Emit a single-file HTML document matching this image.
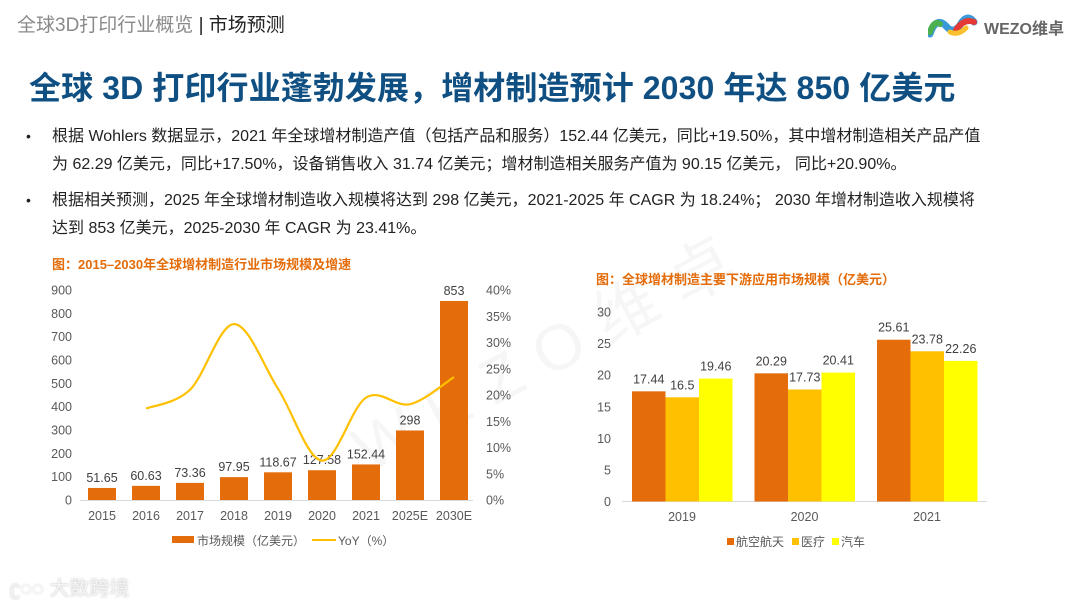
<!DOCTYPE html>
<html><head><meta charset="utf-8">
<style>
body{margin:0;width:1080px;height:608px;background:#fff;overflow:hidden;position:relative;font-family:"Liberation Sans","Noto Sans CJK SC",sans-serif}
.hdr{position:absolute;left:17px;top:10px;font-size:19px;color:#8a8a8a;white-space:nowrap}
.hdr b{font-weight:normal;color:#222}
.title{position:absolute;left:29px;top:63px;font-size:32px;font-weight:bold;color:#0f4f82;white-space:nowrap;letter-spacing:0.1px}
.bl{position:absolute;left:26px;font-size:16px;color:#222;white-space:nowrap}
.bl span{display:inline-block;width:26px;font-size:14px}
.ln{position:absolute;left:52px;font-size:16px;color:#222;white-space:nowrap}
svg{position:absolute;left:0;top:0}
</style></head><body>
<div class="hdr">全球3D打印行业概览 <b>| 市场预测</b></div>
<div style="position:absolute;left:928px;top:10px;width:150px;height:30px">
<svg width="60" height="30" style="position:absolute;left:0;top:0"><path d="M2 24 Q8 6 18 16 Q26 26 34 12 Q40 4 46 12" stroke="#3a9ad9" stroke-width="7" fill="none" stroke-linecap="round"/><path d="M2 22 Q6 10 12 14" stroke="#4caf50" stroke-width="6" fill="none" stroke-linecap="round"/><path d="M28 20 Q36 8 46 12" stroke="#e53935" stroke-width="6" fill="none" stroke-linecap="round"/><path d="M22 22 Q30 26 38 18" stroke="#fbc02d" stroke-width="5" fill="none" stroke-linecap="round"/></svg>
<div style="position:absolute;left:56px;top:5px;font-size:16px;font-weight:bold;color:#666;white-space:nowrap">WEZO维卓</div></div>
<div class="title">全球 3D 打印行业蓬勃发展，增材制造预计 2030 年达 850 亿美元</div>
<div class="bl" style="top:122px"><span>•</span>根据 Wohlers 数据显示，2021 年全球增材制造产值（包括产品和服务）152.44 亿美元，同比+19.50%，其中增材制造相关产品产值</div>
<div class="ln" style="top:150px">为 62.29 亿美元，同比+17.50%，设备销售收入 31.74 亿美元；增材制造相关服务产值为 90.15 亿美元， 同比+20.90%。</div>
<div class="bl" style="top:186px"><span>•</span>根据相关预测，2025 年全球增材制造收入规模将达到 298 亿美元，2021-2025 年 CAGR 为 18.24%； 2030 年增材制造收入规模将</div>
<div class="ln" style="top:214px">达到 853 亿美元，2025-2030 年 CAGR 为 23.41%。</div>
<div style="position:absolute;left:330px;top:300px;font-size:64px;color:rgba(0,0,0,0.035);transform:rotate(-28deg);letter-spacing:20px;white-space:nowrap">WEZO维卓</div>
<div style="position:absolute;left:10px;top:572px;font-size:20px;color:#f4f4f4;text-shadow:0 0 2px #bbb">ʗ◌◌ 大数跨境</div>
<svg id="c1" width="1080" height="608"></svg>
<script>
const years=["2015","2016","2017","2018","2019","2020","2021","2025E","2030E"];
const sizes=[51.65,60.63,73.36,97.95,118.67,127.58,152.44,298,853];
const sizeLabels=["51.65","60.63","73.36","97.95","118.67","127.58","152.44","298","853"];
const yoy=[null,17.4,21,33.5,21.2,7.5,19.5,18.24,23.41];
const leftTicks=[0,100,200,300,400,500,600,700,800,900];
const rightTicks=[0,5,10,15,20,25,30,35,40];
const cats2=["2019","2020","2021"];
const aero=[17.44,20.29,25.61];
const med=[16.5,17.73,23.78];
const auto=[19.46,20.41,22.26];
const ticks2=[0,5,10,15,20,25,30];
const NS="http://www.w3.org/2000/svg";
const svg=document.getElementById('c1');
function mk(t,a,txt){const e=document.createElementNS(NS,t);for(const k in a)e.setAttribute(k,a[k]);if(txt!==undefined)e.textContent=txt;svg.appendChild(e);return e;}
const F='"Liberation Sans","Noto Sans CJK SC",sans-serif';
const y1=v=>500-v*(210/900), y1r=v=>500-v*(210/40), x1=i=>102+i*44;
let t=mk('text',{x:52,y:269,'font-size':13,'font-weight':'bold',fill:'#e46c0a','font-family':F},'图：2015–2030年全球增材制造行业市场规模及增速');


leftTicks.forEach(v=>{const e=mk('text',{x:72,y:y1(v)+4.5,'font-size':12.5,fill:'#595959','text-anchor':'end','font-family':F},String(v));

});
rightTicks.forEach(v=>{const e=mk('text',{x:486,y:y1r(v)+4.5,'font-size':12.5,fill:'#595959','font-family':F},v+'%');

});
let ax=mk('line',{x1:80,x2:473,y1:500.5,y2:500.5,stroke:'#d9d9d9'});


years.forEach((c,i)=>{
 const b=mk('rect',{x:x1(i)-14,y:y1(sizes[i]),width:28,height:500-y1(sizes[i]),fill:'#e46c0a'});
 
 
 const l=mk('text',{x:x1(i),y:y1(sizes[i])-6,'font-size':12.5,fill:'#404040','text-anchor':'middle','font-family':F},sizeLabels[i]);
 
 
 const xl=mk('text',{x:x1(i),y:520,'font-size':12.5,fill:'#595959','text-anchor':'middle','font-family':F},c);
 
 
});
const pts=[];yoy.forEach((v,i)=>{if(v!==null)pts.push([x1(i),y1r(v)]);});
let d='M'+pts[0][0]+','+pts[0][1];
for(let i=0;i<pts.length-1;i++){const p0=pts[Math.max(i-1,0)],p1=pts[i],p2=pts[i+1],p3=pts[Math.min(i+2,pts.length-1)];
 d+=` C${p1[0]+(p2[0]-p0[0])/6},${p1[1]+(p2[1]-p0[1])/6} ${p2[0]-(p3[0]-p1[0])/6},${p2[1]-(p3[1]-p1[1])/6} ${p2[0]},${p2[1]}`;}
const ln=mk('path',{d:d,stroke:'#ffc000','stroke-width':2.2,fill:'none'});


let lg=mk('rect',{x:172,y:536,width:22,height:7,fill:'#e46c0a'});


lg=mk('text',{x:197,y:545,'font-size':12,fill:'#595959','font-family':F},'市场规模（亿美元）');


lg=mk('line',{x1:312,x2:336,y1:540,y2:540,stroke:'#ffc000','stroke-width':2});


lg=mk('text',{x:338,y:545,'font-size':12,fill:'#595959','font-family':F},'YoY（%）');


const y2=v=>501.5-v*(189.5/30), g2=i=>682+i*122.5;
t=mk('text',{x:596,y:284,'font-size':13,'font-weight':'bold',fill:'#e46c0a','font-family':F},'图：全球增材制造主要下游应用市场规模（亿美元）');


ticks2.forEach(v=>{const e=mk('text',{x:611,y:y2(v)+4.5,'font-size':12.5,fill:'#595959','text-anchor':'end','font-family':F},String(v));

});
ax=mk('line',{x1:622,x2:987,y1:501.5,y2:501.5,stroke:'#d9d9d9'});


const series=[[aero,'#e46c0a','aero'],[med,'#ffc000','medical'],[auto,'#ffff00','auto']];
cats2.forEach((c,i)=>{
 series.forEach((s,j)=>{const v=s[0][i];const x=g2(i)-50+j*33.5;
  const b=mk('rect',{x:x,y:y2(v),width:33.5,height:501.5-y2(v),fill:s[1]});
  
  
  const l=mk('text',{x:x+16.75,y:y2(v)-8,'font-size':12.5,fill:'#404040','text-anchor':'middle','font-family':F},String(v));
  
  });
 const xl=mk('text',{x:g2(i),y:521,'font-size':12.5,fill:'#595959','text-anchor':'middle','font-family':F},c);
 
 
});
[['航空航天',727],['医疗',792],['汽车',832]].forEach((e,j)=>{
 const r=mk('rect',{x:e[1],y:538,width:7,height:7,fill:series[j][1]});
 
 
 const tx=mk('text',{x:e[1]+9,y:546,'font-size':12,fill:'#595959','font-family':F},e[0]);
 
 
});
</script>
</body></html>
